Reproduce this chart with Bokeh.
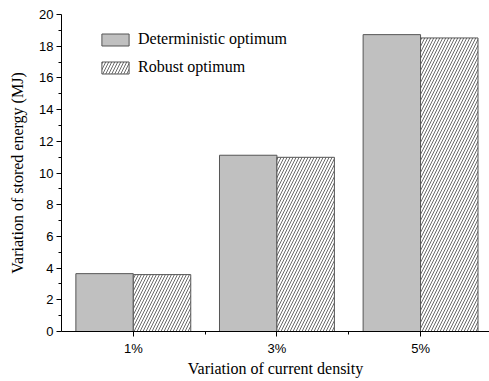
from bokeh.plotting import figure
from bokeh.models import FixedTicker, Legend, LegendItem, ColumnDataSource, Range1d
from bokeh.embed import file_html
from bokeh.resources import INLINE

categories = ["1%", "3%", "5%"]
deterministic = [3.65, 11.12, 18.73]
robust = [3.59, 10.99, 18.52]
series_names = ["Deterministic optimum", "Robust optimum"]

SERIF = "Liberation Serif"
SANS = "Liberation Sans"

xpos = [i + 1 for i in range(len(categories))]
src = ColumnDataSource(dict(
    x_det=[x - 0.2 for x in xpos],
    x_rob=[x + 0.2 for x in xpos],
    det=deterministic,
    rob=robust,
))

p = figure(width=489, height=381, output_backend="svg", toolbar_location=None,
           x_range=Range1d(0.5, 3.48), y_range=Range1d(0, 20),
           min_border_left=61, min_border_right=0, min_border_top=14, min_border_bottom=50)
p.outline_line_color = None
p.xgrid.visible = False
p.ygrid.visible = False
p.background_fill_color = "white"
p.border_fill_color = "white"

r1 = p.vbar(x="x_det", top="det", width=0.4, source=src, fill_color="#c0c0c0",
            line_color="#555555", line_width=1)
r2 = p.vbar(x="x_rob", top="rob", width=0.4, source=src, fill_color="white",
            line_color="#555555", line_width=1, hatch_pattern="right_diagonal_line",
            hatch_color="#444444", hatch_scale=6, hatch_weight=0.8)

p.xaxis.ticker = FixedTicker(ticks=xpos, minor_ticks=[1.5, 2.5, 3.5])
p.xaxis.major_label_overrides = {x: c for x, c in zip(xpos, categories)}
p.yaxis.ticker = FixedTicker(ticks=list(range(0, 21, 2)), minor_ticks=list(range(1, 20, 2)))

for ax in (p.xaxis[0], p.yaxis[0]):
    ax.axis_line_color = "black"
    ax.axis_line_width = 1
    ax.major_tick_line_color = "black"
    ax.minor_tick_line_color = "black"
    ax.major_tick_in = 0
    ax.major_tick_out = 5
    ax.minor_tick_in = 0
    ax.minor_tick_out = 3
    ax.major_label_text_font = SANS
    ax.major_label_text_font_size = "13px"
    ax.major_label_text_color = "black"
    ax.axis_label_text_font = SERIF
    ax.axis_label_text_font_size = "16px"
    ax.axis_label_text_font_style = "normal"
    ax.axis_label_text_color = "black"

p.xaxis.axis_label = "Variation of current density"
p.yaxis.axis_label = "Variation of stored energy (MJ)"
p.xaxis.major_label_standoff = 4
p.xaxis.axis_label_standoff = 1
p.yaxis.major_label_standoff = 3
p.yaxis.axis_label_standoff = 10

legend = Legend(items=[LegendItem(label=series_names[0], renderers=[r1]),
                       LegendItem(label=series_names[1], renderers=[r2])],
                location=(37, 255))
legend.border_line_color = None
legend.background_fill_alpha = 0
legend.padding = 0
legend.margin = 0
legend.spacing = 10
legend.glyph_width = 34
legend.glyph_height = 15
legend.label_height = 15
legend.label_standoff = 6
legend.label_text_font = SERIF
legend.label_text_font_size = "16px"
legend.label_text_color = "black"
p.add_layout(legend)

open("out.html", "w").write(file_html(p, INLINE))
